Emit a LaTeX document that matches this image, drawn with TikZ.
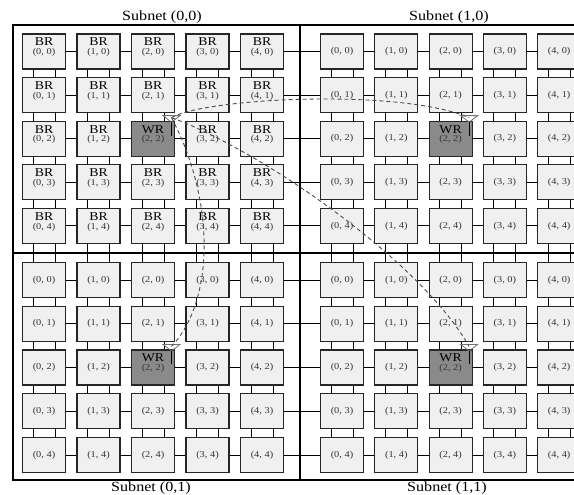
\documentclass[tikz,border=0pt]{standalone}
\usepackage{fontspec}
\setmainfont{Liberation Serif}
\newfontfamily\wide[FakeStretch=1.15]{Liberation Serif}
\usetikzlibrary{calc}
\begin{document}
\begin{tikzpicture}[x=1pt,y=-1pt,
  rbox/.style={draw=black!85, line width=1.1pt, fill=black!6, minimum width=43pt, minimum height=35pt, inner sep=0pt},
  wbox/.style={rbox, fill=black!46},
  link/.style={line width=0.9pt, black},
  frame/.style={line width=1.1pt, black},
  hop/.style={dash pattern=on 4pt off 3pt, line width=0.9pt, black!70},
  ant/.style={draw=black!55, line width=0.8pt},
  stick/.style={line width=1pt, black},
  rtype/.style={font=\wide\fontsize{12}{12}\selectfont, inner sep=0pt},
  coordl/.style={font=\wide\fontsize{9}{9}\selectfont, text=black!80, inner sep=0pt},
  subnet/.style={font=\wide\fontsize{14}{14}\selectfont, inner sep=0pt}]
\useasboundingbox (0,0) rectangle (574,495);
\clip (0,0) rectangle (574,495);

% frame
\draw[frame] (13,25) rectangle (600,480);
\draw[frame] (300,25) -- (300,480);
\draw[frame] (13,253) -- (600,253);

% router boxes
\foreach \sx/\xa/\dx in {0/44/54.5,1/342/54.3}{
 \foreach \sy/\ya/\dy in {0/51.5/43.6,1/280/43.75}{
  \foreach \i in {0,...,4}{
   \foreach \j in {0,...,4}{
     \pgfmathsetmacro\cx{\xa+\dx*\i}
     \pgfmathsetmacro\cy{\ya+\dy*\j}
     \ifnum\numexpr10*\i+\j\relax=22 \def\st{wbox}\def\rt{WR}\else\def\st{rbox}\def\rt{BR}\fi
     \node[\st] (b\sx\sy\i\j) at (\cx,\cy) {};
     \ifnum\numexpr10*\sx+\sy\relax=0
       \node[rtype] (r\sx\sy\i\j) at (\cx,\cy-9.5) {\rt};
       \node[coordl] (c\sx\sy\i\j) at (\cx,\cy+1) {(\i, \j)};
     \else
       \ifnum\numexpr10*\i+\j\relax=22
         \node[rtype] (r\sx\sy\i\j) at (\cx,\cy-9.5) {WR};
         \node[coordl] (c\sx\sy\i\j) at (\cx,\cy+1) {(\i, \j)};
       \else
         \node[coordl] (c\sx\sy\i\j) at (\cx,\cy) {(\i, \j)};
       \fi
     \fi
   }}}}

% horizontal links
\foreach \sy in {0,1}{\foreach \j in {0,...,4}{
  \foreach \i [evaluate=\i as \k using int(\i+1)] in {0,...,3}{
    \draw[link] (b0\sy\i\j) -- (b0\sy\k\j);
    \draw[link] (b1\sy\i\j) -- (b1\sy\k\j);}
  \draw[link] (b0\sy4\j) -- (b1\sy0\j);
}}

% vertical double links
\foreach \sx in {0,1}{\foreach \i in {0,...,4}{
  \foreach \sy in {0,1}{\foreach \j [evaluate=\j as \k using int(\j+1)] in {0,...,3}{
     \draw[link] ([xshift=-11pt]b\sx\sy\i\j.south) -- ([xshift=-11pt]b\sx\sy\i\k.north);
     \draw[link] ([xshift=11pt]b\sx\sy\i\j.south) -- ([xshift=11pt]b\sx\sy\i\k.north);
  }}
  \draw[link] ([xshift=-11pt]b\sx0\i4.south) -- ([xshift=-11pt]b\sx1\i0.north);
  \draw[link] ([xshift=11pt]b\sx0\i4.south) -- ([xshift=11pt]b\sx1\i0.north);
}}

% antennas on wireless routers
\foreach \sx in {0,1}{\foreach \sy in {0,1}{
  \draw[ant] ($(b\sx\sy22.north)+(10,-5)$) -- ($(b\sx\sy22.north)+(27,-5)$) -- ($(b\sx\sy22.north)+(18.5,1.5)$) -- cycle;
  \draw[stick] ($(b\sx\sy22.north)+(18.5,1.5)$) -- ($(b\sx\sy22.north)+(18.5,15)$);
  \coordinate (a\sx\sy) at ($(b\sx\sy22.north)+(18.5,-3)$);
}}

% wireless hops
\draw[hop] (a00) .. controls (205,98) and (400,88) .. (a10);
\draw[hop] (a00) .. controls (260,150) and (420,260) .. (a11);
\draw[hop] (a00) .. controls (215,200) and (215,300) .. (a01);

% subnet labels
\node[subnet] (s00) at (162,17) {Subnet (0,0)};
\node[subnet] (s10) at (449,17) {Subnet (1,0)};
\node[subnet] (s01) at (151,488) {Subnet (0,1)};
\node[subnet] (s11) at (447,488) {Subnet (1,1)};
\end{tikzpicture}
\end{document}
